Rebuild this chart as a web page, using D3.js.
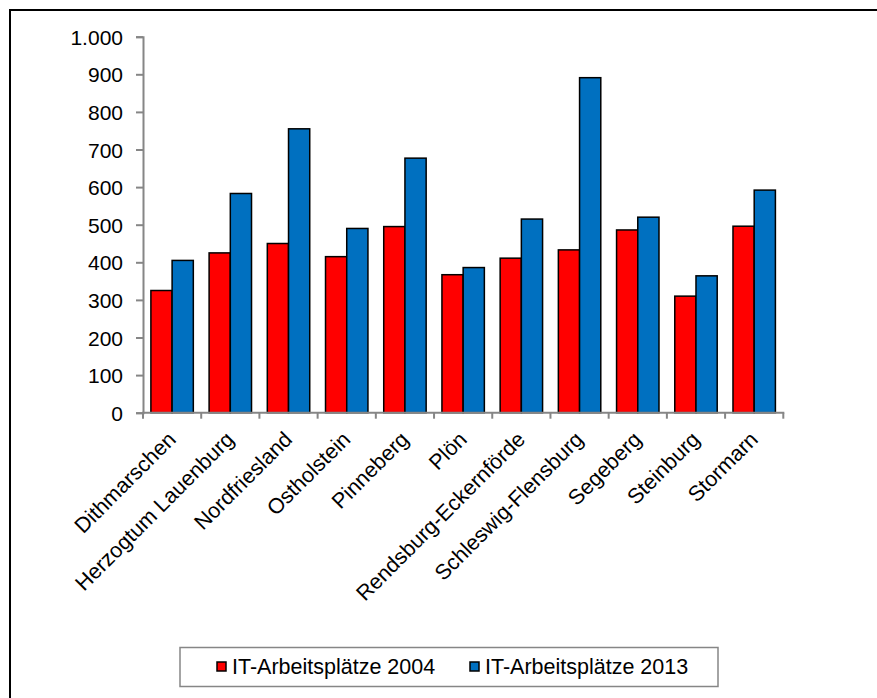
<!DOCTYPE html>
<html>
<head>
<meta charset="utf-8">
<script src="https://cdn.jsdelivr.net/npm/d3@7"></script>
<style>
  html, body { margin: 0; padding: 0; background: #fff; }
  svg { display: block; font-family: "Liberation Sans", Arial, sans-serif; }
</style>
</head>
<body>
<svg id="chart" width="877" height="698"></svg>
<script>
const categories = ["Dithmarschen", "Herzogtum Lauenburg", "Nordfriesland", "Ostholstein", "Pinneberg", "Plön", "Rendsburg-Eckernförde", "Schleswig-Flensburg", "Segeberg", "Steinburg", "Stormarn"];
const series2004 = [325, 425, 450, 415, 495, 367, 411, 433, 486, 310, 496];
const series2013 = [405, 583, 755, 490, 677, 386, 515, 891, 520, 364, 592];
const seriesNames = ["IT-Arbeitsplätze 2004", "IT-Arbeitsplätze 2013"];
const seriesColors = ["#FF0000", "#0070C0"];
const yTicks = [0, 100, 200, 300, 400, 500, 600, 700, 800, 900, 1000];

const svg = d3.select("#chart");

// outer frame (only top/left visible in the picture)
svg.append("rect").attr("x", 10).attr("y", 10).attr("width", 900).attr("height", 720)
  .attr("fill", "none").attr("stroke", "#000").attr("stroke-width", 2);

const pLeft = 143, pRight = 783.3, pTop = 36.7, pBottom = 412.7;

const x = d3.scaleBand().domain(categories).range([pLeft, pRight]).paddingInner(0).paddingOuter(0);
const inner = d3.scaleBand().domain([0, 1]).range([0, x.bandwidth()]).paddingInner(0).paddingOuter(0.372);
const y = d3.scaleLinear().domain([0, 1000]).range([pBottom, pTop]);

const fmt = v => d3.format(",")(v).replace(/,/g, ".");

// y axis
const yAxis = svg.append("g").attr("transform", `translate(${pLeft},0)`)
  .call(d3.axisLeft(y).tickValues(yTicks).tickSize(7).tickPadding(13).tickFormat(fmt));
yAxis.select(".domain").attr("stroke", "#868686").attr("stroke-width", 2);
yAxis.selectAll(".tick line").attr("stroke", "#868686").attr("stroke-width", 2);
yAxis.selectAll(".tick text").attr("fill", "#000").attr("font-size", "21px")
  .attr("font-family", "Liberation Sans, Arial, sans-serif").attr("dy", "0.36em");

// bars
const data = [series2004, series2013];
data.forEach((vals, s) => {
  svg.append("g").selectAll("rect").data(vals).join("rect")
    .attr("x", (d, i) => x(categories[i]) + inner(s))
    .attr("y", d => y(d))
    .attr("width", inner.bandwidth())
    .attr("height", d => y(0) - y(d))
    .attr("fill", seriesColors[s])
    .attr("stroke", "#000")
    .attr("stroke-width", 1.5);
});

// x axis
const boundaries = categories.map(c => x(c)).concat([pRight]);
const xg = svg.append("g");
xg.append("line").attr("x1", pLeft - 1).attr("x2", pRight + 1).attr("y1", pBottom).attr("y2", pBottom)
  .attr("stroke", "#868686").attr("stroke-width", 2);
xg.selectAll("line.tk").data(boundaries).join("line").attr("class", "tk")
  .attr("x1", d => d).attr("x2", d => d).attr("y1", pBottom).attr("y2", pBottom + 6)
  .attr("stroke", "#868686").attr("stroke-width", 2);
xg.selectAll("text").data(categories).join("text")
  .attr("transform", d => `translate(${x(d) + x.bandwidth() / 2 + 5},${pBottom + 28}) rotate(-45)`)
  .attr("text-anchor", "end")
  .attr("font-size", "21.5px")
  .attr("fill", "#000")
  .text(d => d);

// legend
const lg = svg.append("g");
lg.append("rect").attr("x", 180).attr("y", 647.5).attr("width", 538).attr("height", 39)
  .attr("fill", "#fff").attr("stroke", "#868686").attr("stroke-width", 1.5);
const legX = [217, 470];
seriesNames.forEach((n, i) => {
  lg.append("rect").attr("x", legX[i]).attr("y", 662).attr("width", 9).attr("height", 9)
    .attr("fill", seriesColors[i]).attr("stroke", "#000").attr("stroke-width", 1.5);
  lg.append("text").attr("x", legX[i] + 15).attr("y", 674).attr("font-size", "21.5px")
    .attr("fill", "#000").text(n);
});
</script>
</body>
</html>
